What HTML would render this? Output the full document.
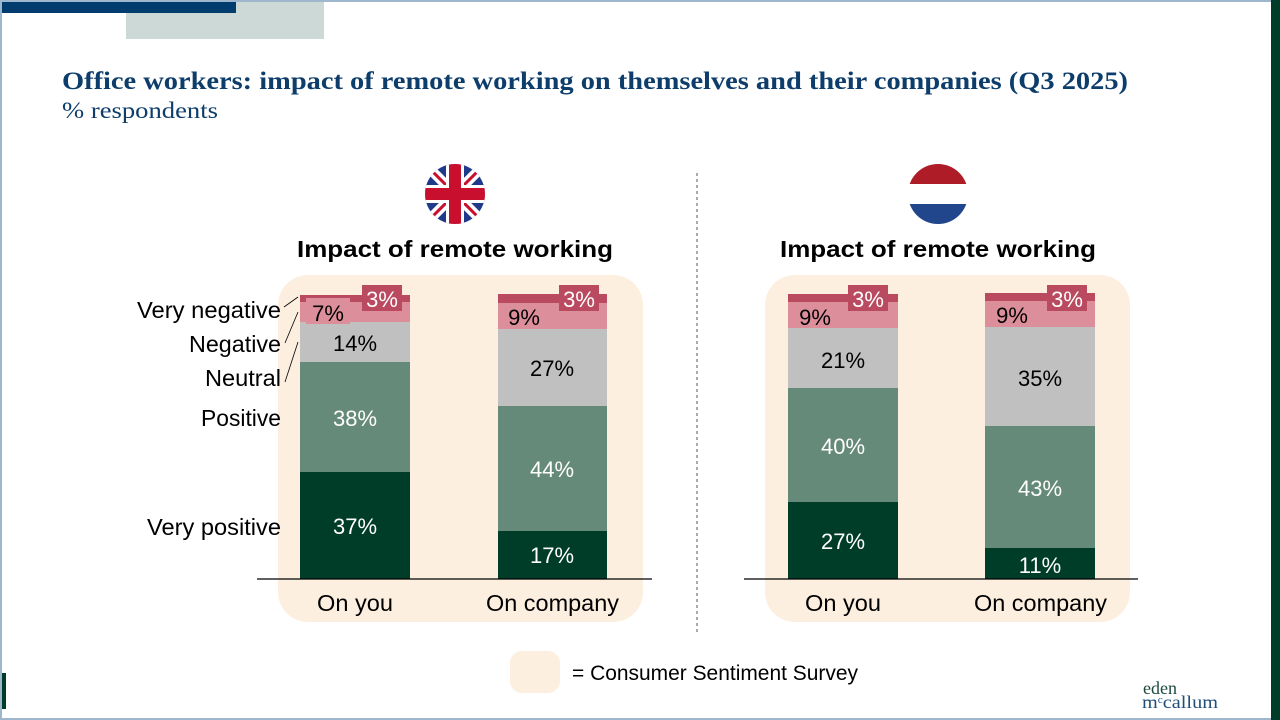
<!DOCTYPE html>
<html><head><meta charset="utf-8"><style>
html,body{margin:0;padding:0;background:#fff}
svg{display:block}
text{font-family:"Liberation Sans","DejaVu Sans",sans-serif}
.s{font-family:"Liberation Serif",serif}
</style></head><body>
<svg width="1280" height="720" viewBox="0 0 1280 720" xmlns="http://www.w3.org/2000/svg">
<rect x="0" y="0" width="1280" height="720" fill="#fff"/>
<rect x="0" y="0" width="1280" height="2" fill="#9fb7cc"/>
<rect x="0" y="718" width="1280" height="2" fill="#9fb7cc"/>
<rect x="0" y="0" width="2" height="720" fill="#9fb7cc"/>
<rect x="1271" y="0" width="9" height="720" fill="#003d28"/>
<rect x="2" y="2" width="234" height="11" fill="#003d6e"/>
<rect x="126" y="13" width="198" height="26" fill="#cdd9d6"/>
<rect x="236" y="2" width="88" height="11" fill="#cdd9d6"/>
<rect x="2" y="673" width="4" height="36" fill="#003d28"/>
<text class="s" x="62" y="89" font-size="25" font-weight="bold" fill="#0d3d6b" textLength="1066" lengthAdjust="spacingAndGlyphs">Office workers: impact of remote working on themselves and their companies (Q3 2025)</text>
<text class="s" x="62" y="118" font-size="23" fill="#0d3d6b" textLength="156" lengthAdjust="spacingAndGlyphs">% respondents</text>
<line x1="697" y1="173" x2="697" y2="633" stroke="#555" stroke-dasharray="3,3"/>
<defs><clipPath id="uk"><circle cx="455" cy="194" r="30"/></clipPath><clipPath id="nl"><circle cx="938" cy="194" r="30"/></clipPath></defs>
<g clip-path="url(#uk)">
<rect x="425" y="164" width="60" height="60" fill="#1f3a8a"/>
<line x1="425" y1="164" x2="485" y2="224" stroke="#fff" stroke-width="10"/>
<line x1="485" y1="164" x2="425" y2="224" stroke="#fff" stroke-width="10"/>
<line x1="425" y1="164" x2="485" y2="224" stroke="#c8102e" stroke-width="3"/>
<line x1="485" y1="164" x2="425" y2="224" stroke="#c8102e" stroke-width="3"/>
<rect x="425" y="185" width="60" height="18" fill="#fff"/><rect x="446" y="164" width="18" height="60" fill="#fff"/>
<rect x="425" y="188" width="60" height="12" fill="#c8102e"/><rect x="449" y="164" width="12" height="60" fill="#c8102e"/>
</g>
<g clip-path="url(#nl)">
<rect x="908" y="164" width="60" height="20" fill="#ae1c28"/><rect x="908" y="184" width="60" height="20" fill="#fff"/><rect x="908" y="204" width="60" height="20" fill="#21468b"/>
</g>
<text x="297" y="257" font-size="23" font-weight="bold" fill="#000" textLength="316" lengthAdjust="spacingAndGlyphs">Impact of remote working</text>
<text x="780" y="257" font-size="23" font-weight="bold" fill="#000" textLength="316" lengthAdjust="spacingAndGlyphs">Impact of remote working</text>
<rect x="278" y="275" width="365" height="347" rx="30" fill="#fcefdf"/>
<rect x="765" y="275" width="365" height="347" rx="30" fill="#fcefdf"/>
<rect x="510" y="651" width="50" height="42" rx="12" fill="#fcefdf"/>
<text x="572" y="680" font-size="21" fill="#000" textLength="286" lengthAdjust="spacingAndGlyphs">= Consumer Sentiment Survey</text>
<g font-size="22" text-anchor="middle">
<rect x="300" y="472" width="110" height="107" fill="#003d28"/><text x="355" y="534" fill="#fff">37%</text>
<rect x="300" y="362" width="110" height="110" fill="#668a7a"/><text x="355" y="426" fill="#fff">38%</text>
<rect x="300" y="322" width="110" height="40" fill="#c0c0c0"/><text x="355" y="351">14%</text>
<rect x="300" y="302" width="110" height="20" fill="#dc8f9a"/>
<rect x="300" y="295" width="110" height="7" fill="#b94a5f"/>
<rect x="306" y="298" width="44" height="26" fill="#dc8f9a"/><text x="328" y="321">7%</text>
<rect x="362" y="285" width="40" height="26" fill="#b94a5f"/><text x="382" y="307" fill="#fff">3%</text>
<rect x="498" y="531" width="109" height="48" fill="#003d28"/><text x="552" y="563" fill="#fff">17%</text>
<rect x="498" y="406" width="109" height="125" fill="#668a7a"/><text x="552" y="477" fill="#fff">44%</text>
<rect x="498" y="329" width="109" height="77" fill="#c0c0c0"/><text x="552" y="376">27%</text>
<rect x="498" y="303" width="109" height="26" fill="#dc8f9a"/><text x="524" y="325">9%</text>
<rect x="498" y="294" width="109" height="9" fill="#b94a5f"/>
<rect x="559" y="285" width="40" height="26" fill="#b94a5f"/><text x="579" y="307" fill="#fff">3%</text>
<rect x="788" y="502" width="110" height="77" fill="#003d28"/><text x="843" y="549" fill="#fff">27%</text>
<rect x="788" y="388" width="110" height="114" fill="#668a7a"/><text x="843" y="454" fill="#fff">40%</text>
<rect x="788" y="328" width="110" height="60" fill="#c0c0c0"/><text x="843" y="368">21%</text>
<rect x="788" y="302" width="110" height="26" fill="#dc8f9a"/><text x="815" y="325">9%</text>
<rect x="788" y="294" width="110" height="8" fill="#b94a5f"/>
<rect x="848" y="285" width="40" height="26" fill="#b94a5f"/><text x="868" y="307" fill="#fff">3%</text>
<rect x="985" y="548" width="110" height="31" fill="#003d28"/><text x="1040" y="573" fill="#fff">11%</text>
<rect x="985" y="426" width="110" height="122" fill="#668a7a"/><text x="1040" y="496" fill="#fff">43%</text>
<rect x="985" y="327" width="110" height="99" fill="#c0c0c0"/><text x="1040" y="386">35%</text>
<rect x="985" y="301" width="110" height="26" fill="#dc8f9a"/><text x="1012" y="323">9%</text>
<rect x="985" y="293" width="110" height="8" fill="#b94a5f"/>
<rect x="1047" y="285" width="40" height="26" fill="#b94a5f"/><text x="1067" y="307" fill="#fff">3%</text>
</g>
<g font-size="23">
<text x="317" y="611" textLength="76" lengthAdjust="spacingAndGlyphs">On you</text>
<text x="486" y="611" textLength="133" lengthAdjust="spacingAndGlyphs">On company</text>
<text x="805" y="611" textLength="76" lengthAdjust="spacingAndGlyphs">On you</text>
<text x="974" y="611" textLength="133" lengthAdjust="spacingAndGlyphs">On company</text>
</g>
<line x1="257" y1="579" x2="652" y2="579" stroke="#000" stroke-width="1.3"/>
<line x1="744" y1="579" x2="1138" y2="579" stroke="#000" stroke-width="1.3"/>
<g font-size="23">
<text x="137" y="318" textLength="144" lengthAdjust="spacingAndGlyphs">Very negative</text>
<text x="189" y="352" textLength="92" lengthAdjust="spacingAndGlyphs">Negative</text>
<text x="205" y="386" textLength="76" lengthAdjust="spacingAndGlyphs">Neutral</text>
<text x="201" y="426" textLength="80" lengthAdjust="spacingAndGlyphs">Positive</text>
<text x="147" y="535" textLength="134" lengthAdjust="spacingAndGlyphs">Very positive</text>
</g>
<g stroke="#000" stroke-width="0.8">
<line x1="284" y1="307" x2="298" y2="297"/>
<line x1="285" y1="343" x2="298" y2="312"/>
<line x1="285" y1="382" x2="298" y2="342"/>
</g>
<text class="s" x="1143" y="694" font-size="18" fill="#1d4a40">eden</text>
<text class="s" x="1142" y="708" font-size="18" fill="#1f4e79" textLength="76" lengthAdjust="spacingAndGlyphs">m<tspan font-size="10" dy="-5">c</tspan><tspan dy="5">callum</tspan></text>
</svg>
</body></html>
